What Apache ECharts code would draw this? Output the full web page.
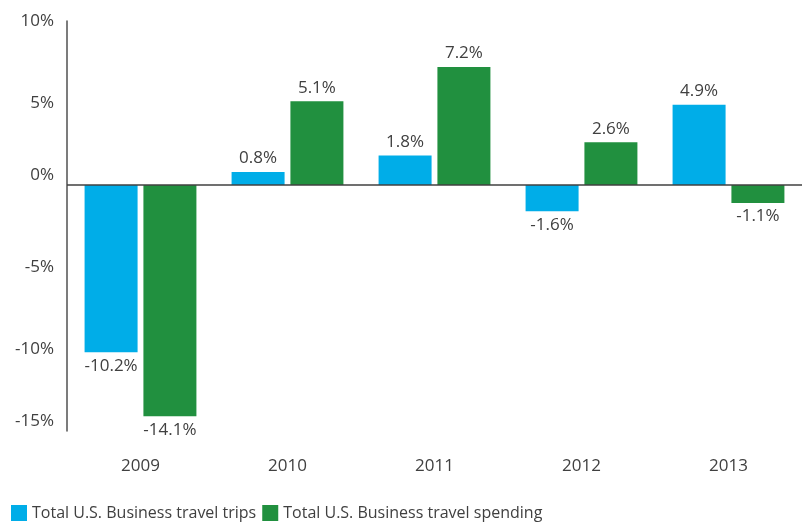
<!DOCTYPE html>
<html>
<head>
<meta charset="utf-8">
<script src="https://cdn.jsdelivr.net/npm/echarts@6/dist/echarts.min.js"></script>
<style>
  html, body { margin: 0; padding: 0; background: #fff; }
  #chart { width: 804px; height: 529px; }
</style>
</head>
<body>
<div id="chart"></div>
<script>
var years = ['2009', '2010', '2011', '2012', '2013'];
var tripsData = [-10.2, 0.8, 1.8, -1.6, 4.9];
var spendingData = [-14.1, 5.1, 7.2, 2.6, -1.1];
var seriesNames = ['Total U.S. Business travel trips', 'Total U.S. Business travel spending'];
// tick labels that sit a little above their tick in the original
var raisedTicks = [0, -15];

var textColor = '#404040';
var font = '"Open Sans", "DejaVu Sans", sans-serif';

// label on top for positive values, below for negative ones
function withLabels(values) {
    return values.map(function (v) {
        return {
            value: v,
            label: { position: v < 0 ? 'bottom' : 'top' }
        };
    });
}

var myChart = echarts.init(document.getElementById('chart'));
var option = {
    animation: false,
    textStyle: { fontFamily: font },
    grid: { left: 67, right: 2, top: 21, bottom: 98 },
    legend: {
        left: 6,
        bottom: 3,
        itemWidth: 16,
        itemHeight: 16,
        itemGap: 6,
        icon: 'rect',
        textStyle: { color: textColor, fontSize: 16, fontFamily: font },
        data: seriesNames
    },
    xAxis: {
        type: 'category',
        data: years,
        axisLine: { show: false },
        axisTick: { show: false },
        axisLabel: { color: textColor, fontSize: 17, margin: 27, fontFamily: font }
    },
    yAxis: {
        type: 'value',
        min: -15,
        max: 10,
        interval: 5,
        axisLine: { show: true, lineStyle: { color: '#505050', width: 1.5 } },
        axisTick: { show: false },
        splitLine: { show: false },
        axisLabel: {
            color: textColor,
            fontSize: 17,
            margin: 13,
            fontFamily: font,
            formatter: function (v) {
                return raisedTicks.indexOf(v) >= 0 ? '{up|' + v + '%}' : v + '%';
            },
            rich: {
                up: { fontSize: 17, color: textColor, fontFamily: font, padding: [0, 0, 20, 0] }
            }
        }
    },
    series: [
        {
            name: seriesNames[0],
            type: 'bar',
            data: withLabels(tripsData),
            barWidth: 53,
            barGap: '11%',
            itemStyle: { color: '#00ADE8' },
            label: {
                show: true,
                distance: 5,
                color: textColor,
                fontSize: 17,
                fontFamily: font,
                formatter: '{c}%'
            },
            markLine: {
                silent: true,
                symbol: ['none', 'none'],
                label: { show: false },
                lineStyle: { color: '#404040', width: 1.5, type: 'solid' },
                data: [{ yAxis: 0 }]
            }
        },
        {
            name: seriesNames[1],
            type: 'bar',
            data: withLabels(spendingData),
            barWidth: 53,
            barGap: '11%',
            itemStyle: { color: '#21903F' },
            label: {
                show: true,
                distance: 5,
                color: textColor,
                fontSize: 17,
                fontFamily: font,
                formatter: '{c}%'
            }
        }
    ]
};
myChart.setOption(option);
</script>
</body>
</html>
